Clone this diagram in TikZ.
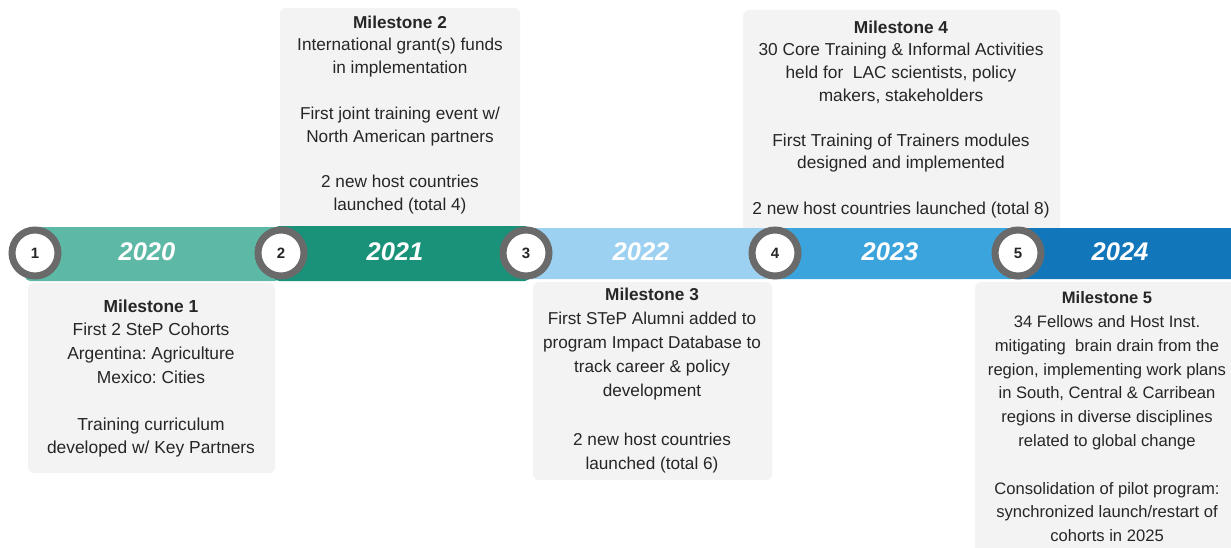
\documentclass[tikz,border=0pt]{standalone}
\usepackage{fontspec}
\setmainfont{Liberation Sans}
\frenchspacing
\definecolor{cA}{HTML}{5DB9A6}
\definecolor{cB}{HTML}{1A927A}
\definecolor{cC}{HTML}{9DD1F1}
\definecolor{cD}{HTML}{3CA4DC}
\definecolor{cE}{HTML}{1277BA}
\definecolor{boxbg}{HTML}{F3F3F3}
\definecolor{ring}{HTML}{6A6A6A}
\definecolor{txt}{HTML}{262626}
\begin{document}
\begin{tikzpicture}[x=1pt,y=-1pt,
  mbox/.style={fill=boxbg,rounded corners=6pt},
  seg/.style={rounded corners=5pt},
  mtext/.style={anchor=north,inner sep=0pt,align=center,text=txt},
  yr/.style={text=white,font=\fontsize{25.5}{28}\selectfont\bfseries\itshape},
  num/.style={circle,draw=ring,line width=7pt,fill=white,minimum size=46pt,inner sep=0pt,text=txt,font=\fontsize{15}{17}\selectfont\bfseries}]
\useasboundingbox (0,0) rectangle (1231,548);
\clip (0,0) rectangle (1231,548);
% milestone boxes
\path[mbox] (28,283) rectangle (275,473) node[pos=0.5] (b1) {};
\path[mbox] (280,8) rectangle (520,232) node[pos=0.5] (b2) {};
\path[mbox] (533,282) rectangle (772,480) node[pos=0.5] (b3) {};
\path[mbox] (743,10) rectangle (1060,232) node[pos=0.5] (b4) {};
\path[mbox] (975,282) rectangle (1250,570) node[pos=0.5] (b5) {};
% bar segments
\fill[seg,cA] (25,227) rectangle (280,281);
\fill[seg,cB] (274,226) rectangle (530,281);
\fill[seg,cC] (522,228) rectangle (774,279);
\fill[seg,cD] (768,228) rectangle (1016,279);
\fill[seg,cE] (1010,228) rectangle (1240,279);
% year labels
\node[yr] (y1) at (147,252) {2020};
\node[yr] (y2) at (395,252) {2021};
\node[yr] (y3) at (641,252) {2022};
\node[yr] (y4) at (890,252) {2023};
\node[yr] (y5) at (1120,252) {2024};
% circles
\node[num] (n1) at (35,253) {1};
\node[num] (n2) at (281,253) {2};
\node[num] (n3) at (526,253) {3};
\node[num] (n4) at (775,253) {4};
\node[num] (n5) at (1018,253) {5};
% texts
\node[mtext,font=\fontsize{17.4}{23.6}\selectfont] (t1) at (151,299.5)
 {\textbf{Milestone 1}\\First 2 SteP Cohorts\\Argentina: Agriculture\\Mexico: Cities\\[23.6pt]Training curriculum\\developed w/ Key Partners};
\node[mtext,font=\fontsize{17.2}{22.8}\selectfont] (t2) at (400,15.5)
 {\textbf{Milestone 2}\\International grant(s) funds\\in implementation\\[22.8pt]First joint training event w/\\North American partners\\[22.8pt]2 new host countries\\launched (total 4)};
\node[mtext,font=\fontsize{17.2}{24.2}\selectfont] (t3) at (652,287.5)
 {\textbf{Milestone 3}\\First STeP Alumni added to\\program Impact Database to\\track career \& policy\\development\\[24.2pt]2 new host countries\\launched (total 6)};
\node[mtext,font=\fontsize{17.3}{22.6}\selectfont] (t4) at (901,20.5)
 {\textbf{Milestone 4}\\30 Core Training \& Informal Activities\\held for\ \ LAC scientists, policy\\makers, stakeholders\\[22.6pt]First Training of Trainers modules\\designed and implemented\\[22.6pt]2 new host countries launched (total 8)};
\node[mtext,font=\fontsize{16.6}{23.8}\selectfont] (t5) at (1107,291.5)
 {\textbf{Milestone 5}\\34 Fellows and Host Inst.\\mitigating\ \ brain drain from the\\region, implementing work plans\\in South, Central \& Carribean\\regions in diverse disciplines\\related to global change\\[23.8pt]Consolidation of pilot program:\\synchronized launch/restart of\\cohorts in 2025};
\end{tikzpicture}
\end{document}
